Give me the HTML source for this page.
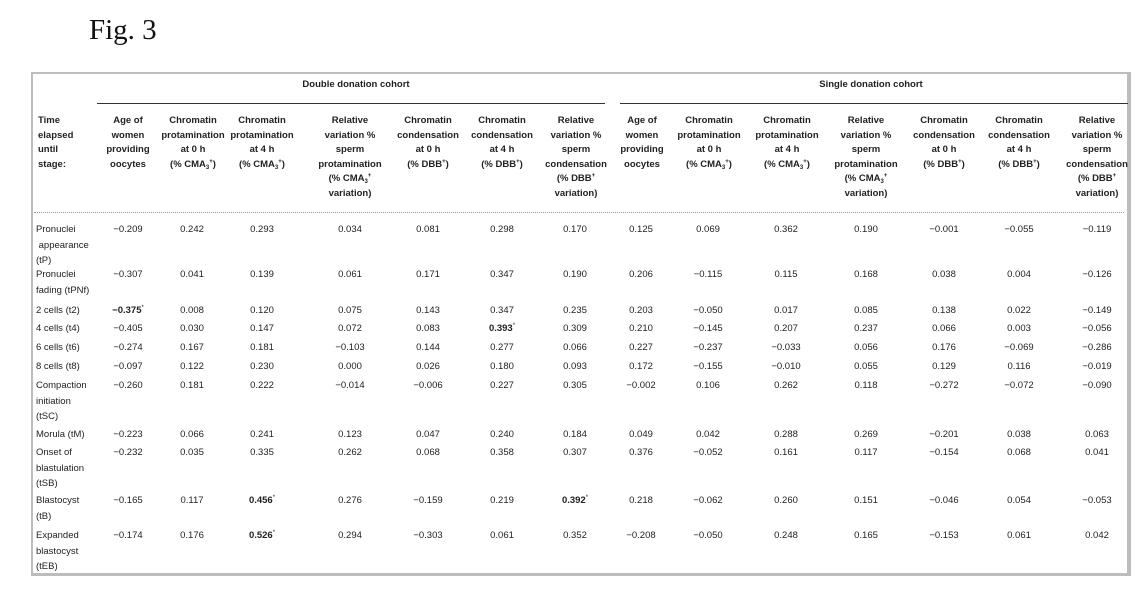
<!DOCTYPE html>
<html><head><meta charset="utf-8"><style>
body{margin:0;background:#fff;width:1147px;height:590px;position:relative;overflow:hidden;font-family:"Liberation Sans",sans-serif;color:#222}
.fig{position:absolute;left:89px;top:14px;font-family:"Liberation Serif",serif;font-size:29px;color:#111}
.frame{position:absolute;left:31px;top:72px;width:1094px;height:499px;border:2px solid #bdbdbd;border-right-width:4px;border-bottom-width:3px}
.t{position:absolute;font-size:9.5px;line-height:15.5px;white-space:nowrap}
.c{transform:translateX(-50%);text-align:center}
.h{font-weight:bold;font-size:9.5px;line-height:14.6px;top:114px}
sup,sub{font-size:6px;line-height:0;vertical-align:baseline;position:relative}
sup{top:-4px}
sub{top:2px}
.ln{position:absolute;height:1px;background:#333}
.dot{position:absolute;left:34px;width:1090px;top:212px;border-top:1px dotted #999}
</style></head><body>
<div class="fig">Fig. 3</div>
<div class="frame"></div>
<div class="t c h" style="left:356px;top:78px">Double donation cohort</div>
<div class="t c h" style="left:871px;top:78px">Single donation cohort</div>
<div class="ln" style="left:97px;top:103px;width:508px"></div>
<div class="ln" style="left:620px;top:103px;width:508px"></div>
<div class="t h" style="left:38px">Time<br>elapsed<br>until<br>stage:</div>
<div class="t c h" style="left:128px">Age of<br>women<br>providing<br>oocytes</div>
<div class="t c h" style="left:193px">Chromatin<br>protamination<br>at 0 h<br>(% CMA<sub>3</sub><sup>+</sup>)</div>
<div class="t c h" style="left:262px">Chromatin<br>protamination<br>at 4 h<br>(% CMA<sub>3</sub><sup>+</sup>)</div>
<div class="t c h" style="left:350px">Relative<br>variation %<br>sperm<br>protamination<br>(% CMA<sub>3</sub><sup>+</sup><br>variation)</div>
<div class="t c h" style="left:428px">Chromatin<br>condensation<br>at 0 h<br>(% DBB<sup>+</sup>)</div>
<div class="t c h" style="left:502px">Chromatin<br>condensation<br>at 4 h<br>(% DBB<sup>+</sup>)</div>
<div class="t c h" style="left:576px">Relative<br>variation %<br>sperm<br>condensation<br>(% DBB<sup>+</sup><br>variation)</div>
<div class="t c h" style="left:642px">Age of<br>women<br>providing<br>oocytes</div>
<div class="t c h" style="left:709px">Chromatin<br>protamination<br>at 0 h<br>(% CMA<sub>3</sub><sup>+</sup>)</div>
<div class="t c h" style="left:787px">Chromatin<br>protamination<br>at 4 h<br>(% CMA<sub>3</sub><sup>+</sup>)</div>
<div class="t c h" style="left:866px">Relative<br>variation %<br>sperm<br>protamination<br>(% CMA<sub>3</sub><sup>+</sup><br>variation)</div>
<div class="t c h" style="left:944px">Chromatin<br>condensation<br>at 0 h<br>(% DBB<sup>+</sup>)</div>
<div class="t c h" style="left:1019px">Chromatin<br>condensation<br>at 4 h<br>(% DBB<sup>+</sup>)</div>
<div class="t c h" style="left:1097px">Relative<br>variation %<br>sperm<br>condensation<br>(% DBB<sup>+</sup><br>variation)</div>
<div class="dot"></div>

<div class="t" style="left:36px;top:222px">Pronuclei<br>&nbsp;appearance<br>(tP)</div>
<div class="t" style="left:36px;top:267px">Pronuclei<br>fading (tPNf)</div>
<div class="t" style="left:36px;top:303px">2 cells (t2)</div>
<div class="t" style="left:36px;top:321px">4 cells (t4)</div>
<div class="t" style="left:36px;top:340px">6 cells (t6)</div>
<div class="t" style="left:36px;top:359px">8 cells (t8)</div>
<div class="t" style="left:36px;top:378px">Compaction<br>initiation<br>(tSC)</div>
<div class="t" style="left:36px;top:427px">Morula (tM)</div>
<div class="t" style="left:36px;top:445px">Onset of<br>blastulation<br>(tSB)</div>
<div class="t" style="left:36px;top:493px">Blastocyst<br>(tB)</div>
<div class="t" style="left:36px;top:528px">Expanded<br>blastocyst<br>(tEB)</div>

<div class="t c" style="left:128px;top:222px">−0.209</div><div class="t c" style="left:192px;top:222px">0.242</div><div class="t c" style="left:262px;top:222px">0.293</div><div class="t c" style="left:350px;top:222px">0.034</div><div class="t c" style="left:428px;top:222px">0.081</div><div class="t c" style="left:502px;top:222px">0.298</div><div class="t c" style="left:575px;top:222px">0.170</div><div class="t c" style="left:641px;top:222px">0.125</div><div class="t c" style="left:708px;top:222px">0.069</div><div class="t c" style="left:786px;top:222px">0.362</div><div class="t c" style="left:866px;top:222px">0.190</div><div class="t c" style="left:944px;top:222px">−0.001</div><div class="t c" style="left:1019px;top:222px">−0.055</div><div class="t c" style="left:1097px;top:222px">−0.119</div>

<div class="t c" style="left:128px;top:267px">−0.307</div><div class="t c" style="left:192px;top:267px">0.041</div><div class="t c" style="left:262px;top:267px">0.139</div><div class="t c" style="left:350px;top:267px">0.061</div><div class="t c" style="left:428px;top:267px">0.171</div><div class="t c" style="left:502px;top:267px">0.347</div><div class="t c" style="left:575px;top:267px">0.190</div><div class="t c" style="left:641px;top:267px">0.206</div><div class="t c" style="left:708px;top:267px">−0.115</div><div class="t c" style="left:786px;top:267px">0.115</div><div class="t c" style="left:866px;top:267px">0.168</div><div class="t c" style="left:944px;top:267px">0.038</div><div class="t c" style="left:1019px;top:267px">0.004</div><div class="t c" style="left:1097px;top:267px">−0.126</div>

<div class="t c" style="left:128px;top:303px"><b>−0.375</b><sup>*</sup></div><div class="t c" style="left:192px;top:303px">0.008</div><div class="t c" style="left:262px;top:303px">0.120</div><div class="t c" style="left:350px;top:303px">0.075</div><div class="t c" style="left:428px;top:303px">0.143</div><div class="t c" style="left:502px;top:303px">0.347</div><div class="t c" style="left:575px;top:303px">0.235</div><div class="t c" style="left:641px;top:303px">0.203</div><div class="t c" style="left:708px;top:303px">−0.050</div><div class="t c" style="left:786px;top:303px">0.017</div><div class="t c" style="left:866px;top:303px">0.085</div><div class="t c" style="left:944px;top:303px">0.138</div><div class="t c" style="left:1019px;top:303px">0.022</div><div class="t c" style="left:1097px;top:303px">−0.149</div>

<div class="t c" style="left:128px;top:321px">−0.405</div><div class="t c" style="left:192px;top:321px">0.030</div><div class="t c" style="left:262px;top:321px">0.147</div><div class="t c" style="left:350px;top:321px">0.072</div><div class="t c" style="left:428px;top:321px">0.083</div><div class="t c" style="left:502px;top:321px"><b>0.393</b><sup>*</sup></div><div class="t c" style="left:575px;top:321px">0.309</div><div class="t c" style="left:641px;top:321px">0.210</div><div class="t c" style="left:708px;top:321px">−0.145</div><div class="t c" style="left:786px;top:321px">0.207</div><div class="t c" style="left:866px;top:321px">0.237</div><div class="t c" style="left:944px;top:321px">0.066</div><div class="t c" style="left:1019px;top:321px">0.003</div><div class="t c" style="left:1097px;top:321px">−0.056</div>

<div class="t c" style="left:128px;top:340px">−0.274</div><div class="t c" style="left:192px;top:340px">0.167</div><div class="t c" style="left:262px;top:340px">0.181</div><div class="t c" style="left:350px;top:340px">−0.103</div><div class="t c" style="left:428px;top:340px">0.144</div><div class="t c" style="left:502px;top:340px">0.277</div><div class="t c" style="left:575px;top:340px">0.066</div><div class="t c" style="left:641px;top:340px">0.227</div><div class="t c" style="left:708px;top:340px">−0.237</div><div class="t c" style="left:786px;top:340px">−0.033</div><div class="t c" style="left:866px;top:340px">0.056</div><div class="t c" style="left:944px;top:340px">0.176</div><div class="t c" style="left:1019px;top:340px">−0.069</div><div class="t c" style="left:1097px;top:340px">−0.286</div>

<div class="t c" style="left:128px;top:359px">−0.097</div><div class="t c" style="left:192px;top:359px">0.122</div><div class="t c" style="left:262px;top:359px">0.230</div><div class="t c" style="left:350px;top:359px">0.000</div><div class="t c" style="left:428px;top:359px">0.026</div><div class="t c" style="left:502px;top:359px">0.180</div><div class="t c" style="left:575px;top:359px">0.093</div><div class="t c" style="left:641px;top:359px">0.172</div><div class="t c" style="left:708px;top:359px">−0.155</div><div class="t c" style="left:786px;top:359px">−0.010</div><div class="t c" style="left:866px;top:359px">0.055</div><div class="t c" style="left:944px;top:359px">0.129</div><div class="t c" style="left:1019px;top:359px">0.116</div><div class="t c" style="left:1097px;top:359px">−0.019</div>

<div class="t c" style="left:128px;top:378px">−0.260</div><div class="t c" style="left:192px;top:378px">0.181</div><div class="t c" style="left:262px;top:378px">0.222</div><div class="t c" style="left:350px;top:378px">−0.014</div><div class="t c" style="left:428px;top:378px">−0.006</div><div class="t c" style="left:502px;top:378px">0.227</div><div class="t c" style="left:575px;top:378px">0.305</div><div class="t c" style="left:641px;top:378px">−0.002</div><div class="t c" style="left:708px;top:378px">0.106</div><div class="t c" style="left:786px;top:378px">0.262</div><div class="t c" style="left:866px;top:378px">0.118</div><div class="t c" style="left:944px;top:378px">−0.272</div><div class="t c" style="left:1019px;top:378px">−0.072</div><div class="t c" style="left:1097px;top:378px">−0.090</div>

<div class="t c" style="left:128px;top:427px">−0.223</div><div class="t c" style="left:192px;top:427px">0.066</div><div class="t c" style="left:262px;top:427px">0.241</div><div class="t c" style="left:350px;top:427px">0.123</div><div class="t c" style="left:428px;top:427px">0.047</div><div class="t c" style="left:502px;top:427px">0.240</div><div class="t c" style="left:575px;top:427px">0.184</div><div class="t c" style="left:641px;top:427px">0.049</div><div class="t c" style="left:708px;top:427px">0.042</div><div class="t c" style="left:786px;top:427px">0.288</div><div class="t c" style="left:866px;top:427px">0.269</div><div class="t c" style="left:944px;top:427px">−0.201</div><div class="t c" style="left:1019px;top:427px">0.038</div><div class="t c" style="left:1097px;top:427px">0.063</div>

<div class="t c" style="left:128px;top:445px">−0.232</div><div class="t c" style="left:192px;top:445px">0.035</div><div class="t c" style="left:262px;top:445px">0.335</div><div class="t c" style="left:350px;top:445px">0.262</div><div class="t c" style="left:428px;top:445px">0.068</div><div class="t c" style="left:502px;top:445px">0.358</div><div class="t c" style="left:575px;top:445px">0.307</div><div class="t c" style="left:641px;top:445px">0.376</div><div class="t c" style="left:708px;top:445px">−0.052</div><div class="t c" style="left:786px;top:445px">0.161</div><div class="t c" style="left:866px;top:445px">0.117</div><div class="t c" style="left:944px;top:445px">−0.154</div><div class="t c" style="left:1019px;top:445px">0.068</div><div class="t c" style="left:1097px;top:445px">0.041</div>

<div class="t c" style="left:128px;top:493px">−0.165</div><div class="t c" style="left:192px;top:493px">0.117</div><div class="t c" style="left:262px;top:493px"><b>0.456</b><sup>*</sup></div><div class="t c" style="left:350px;top:493px">0.276</div><div class="t c" style="left:428px;top:493px">−0.159</div><div class="t c" style="left:502px;top:493px">0.219</div><div class="t c" style="left:575px;top:493px"><b>0.392</b><sup>*</sup></div><div class="t c" style="left:641px;top:493px">0.218</div><div class="t c" style="left:708px;top:493px">−0.062</div><div class="t c" style="left:786px;top:493px">0.260</div><div class="t c" style="left:866px;top:493px">0.151</div><div class="t c" style="left:944px;top:493px">−0.046</div><div class="t c" style="left:1019px;top:493px">0.054</div><div class="t c" style="left:1097px;top:493px">−0.053</div>

<div class="t c" style="left:128px;top:528px">−0.174</div><div class="t c" style="left:192px;top:528px">0.176</div><div class="t c" style="left:262px;top:528px"><b>0.526</b><sup>*</sup></div><div class="t c" style="left:350px;top:528px">0.294</div><div class="t c" style="left:428px;top:528px">−0.303</div><div class="t c" style="left:502px;top:528px">0.061</div><div class="t c" style="left:575px;top:528px">0.352</div><div class="t c" style="left:641px;top:528px">−0.208</div><div class="t c" style="left:708px;top:528px">−0.050</div><div class="t c" style="left:786px;top:528px">0.248</div><div class="t c" style="left:866px;top:528px">0.165</div><div class="t c" style="left:944px;top:528px">−0.153</div><div class="t c" style="left:1019px;top:528px">0.061</div><div class="t c" style="left:1097px;top:528px">0.042</div>
</body></html>
